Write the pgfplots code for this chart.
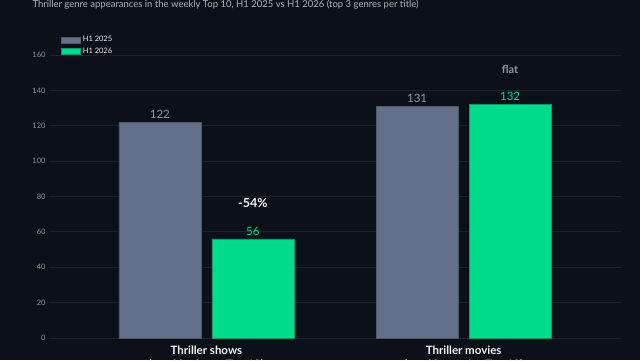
\documentclass[border=0pt]{standalone}
\usepackage{pgfplots}
\pgfplotsset{compat=1.18}
\usepackage{fontspec}
\setmainfont{Lato}
\definecolor{bg}{HTML}{0C1119}
\definecolor{gridc}{HTML}{1B2532}
\definecolor{ticklab}{HTML}{8A93A0}
\definecolor{grayfill}{HTML}{64708A}
\definecolor{grayedge}{HTML}{4E5869}
\definecolor{greenfill}{HTML}{00DC8C}
\definecolor{greenedge}{HTML}{0A9A6A}
\definecolor{graylab}{HTML}{8E99AA}
\definecolor{titlec}{HTML}{AEB5C0}
\begin{document}
\begin{tikzpicture}
\fill[bg] (0,0) rectangle (640pt,360pt);
\begin{axis}[
  at={(52pt,22pt)}, anchor=south west,
  scale only axis, width=566pt, height=283pt,
  xmin=-0.6, xmax=1.6, ymin=0, ymax=160,
  ytick={0,20,...,160},
  xtick={0,1},
  xticklabels={Thriller shows\\(weekly shows Top 10),Thriller movies\\(weekly movies Top 10)},
  xticklabel style={align=center, font=\fontsize{11.5}{13.5}\selectfont\bfseries, text=white!90!gray, yshift=-1.5pt},
  x tick style={draw=none},
  yticklabel style={font=\fontsize{7.5}{9}\selectfont, text=ticklab},
  /pgf/number format/assume math mode=true,
  y tick style={draw=gridc, line width=0.8pt},
  tick align=outside, major tick length=3pt,
  ymajorgrids, grid style={draw=gridc, line width=0.8pt},
  axis line style={draw=none},
  ybar, bar width=82pt,
  legend style={at={(rel axis cs:0.0106,1.08)}, anchor=north west, draw=none, fill=none,
    font=\fontsize{7.5}{9}\selectfont, text=white!85!gray, row sep=0.8pt},
  legend cell align=left,
  legend image code/.code={\fill[#1] (0pt,-3pt) rectangle (19pt,3pt);},
  clip=false,
  point meta=explicit symbolic,
]
\addplot[bar shift=-46.5pt, fill=grayfill, draw=grayedge, line width=0.6pt,
  nodes near coords={\pgfplotspointmeta},
  every node near coord/.append style={font=\fontsize{11.5}{13}\selectfont, text=graylab, yshift=0pt}]
  coordinates {(0,122) [122] (1,131) [131]};
\addlegendentry{H1 2025}
\addplot[bar shift=46.5pt, fill=greenfill, draw=greenedge, line width=0.6pt,
  nodes near coords={\pgfplotspointmeta},
  every node near coord/.append style={font=\fontsize{11.5}{13}\selectfont, text=greenfill, yshift=0pt}]
  coordinates {(0,56) [56] (1,132) [132]};
\addlegendentry{H1 2026}
\node[font=\fontsize{12.5}{14}\selectfont\bfseries, text=white!92!gray] at (axis cs:0,76.5) [xshift=46.5pt] {-54\%};
\node[font=\fontsize{11}{13}\selectfont\bfseries, text=graylab] at (axis cs:1,152) [xshift=46.5pt] {flat};
\end{axis}
\node[anchor=base west, font=\fontsize{9.5}{11}\selectfont, text=titlec] at (29pt,352.5pt) {Thriller genre appearances in the weekly Top 10, H1 2025 vs H1 2026 (top 3 genres per title)};
\pgfresetboundingbox
\path[use as bounding box] (0,0) rectangle (640pt,360pt);
\end{tikzpicture}
\end{document}
